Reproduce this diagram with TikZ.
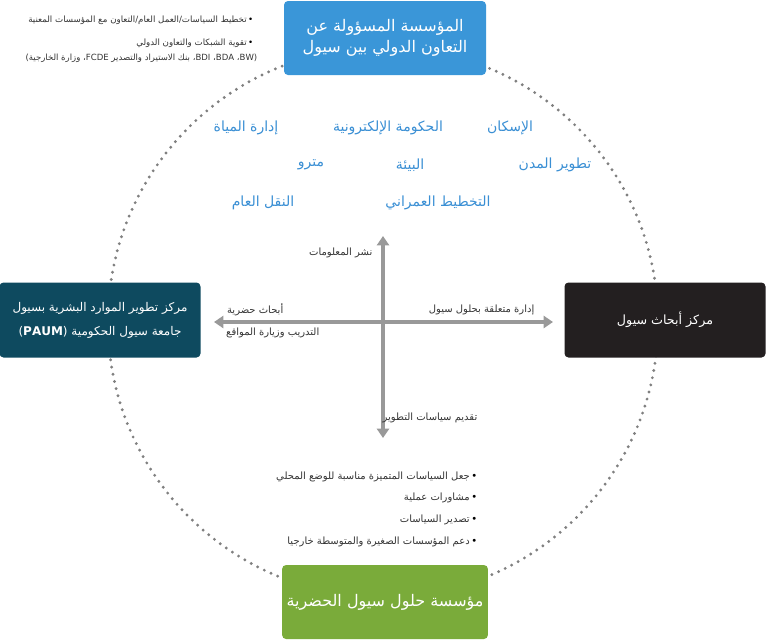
\documentclass[tikz,border=0pt]{standalone}
\usepackage{fontspec}
\usetikzlibrary{arrows.meta}
\newfontfamily\arabicfont[Script=Arabic]{DejaVu Sans}
\TeXXeTstate=1
\newcommand{\ar}[1]{{\arabicfont\beginR #1\endR}}
\newcommand{\lt}[1]{\beginL #1\endL{}}
\definecolor{topblue}{HTML}{3A96D8}
\definecolor{leftteal}{HTML}{0E4A5F}
\definecolor{rightdark}{HTML}{231F20}
\definecolor{botgreen}{HTML}{7AAB3A}
\definecolor{wordblue}{HTML}{3A8FD4}
\definecolor{axisgray}{HTML}{999999}
\newcommand{\dotb}{\textcolor{wordblue}{•}\,}
\begin{document}
\begin{tikzpicture} [
    x=0.75pt, y=-0.75pt,
    box/.style      = { rectangle, rounded corners=3pt, text=white, align=center,
                        font=\fontsize{12}{16}\selectfont },
    word/.style     = { text=wordblue, font=\fontsize{10.5}{12}\selectfont },
    small/.style    = { text=black!80, font=\fontsize{6.5}{9}\selectfont, anchor=east },
    note/.style     = { text=black!80, font=\fontsize{7.5}{10}\selectfont, anchor=east },
    axis/.style     = { draw=axisgray, line width=2.6pt,
                        {Triangle[width=9pt,length=7pt]}-{Triangle[width=9pt,length=7pt]} },
  ]
  \useasboundingbox (0,0) rectangle (766,640);

  % dotted ring
  \node[circle, minimum size=550*0.75pt, draw=black!50, line width=2.4pt,
        dash pattern=on 0pt off 5.5pt, line cap=round] (ring) at (383,322) {};

  % the four bodies
  \node[box, fill=topblue,  minimum width=202*0.75pt, minimum height=74*0.75pt] (seoul) at (385,38)
    {\ar{المؤسسة المسؤولة عن}\\\ar{التعاون الدولي بين سيول}};
  \node[box, fill=leftteal, minimum width=201*0.75pt, minimum height=75*0.75pt,
        font=\fontsize{9}{18}\selectfont] (hrd) at (100,320)
    {\ar{مركز تطوير الموارد البشرية بسيول}\\\ar{جامعة سيول الحكومية (\lt{\textbf{PAUM}})}};
  \node[box, fill=rightdark, minimum width=201*0.75pt, minimum height=75*0.75pt,
        font=\fontsize{9.5}{12}\selectfont] (si) at (665,320) {\ar{مركز أبحاث سيول}};
  \node[box, fill=botgreen, minimum width=202*0.75pt, minimum height=74*0.75pt] (sus) at (385,602)
    {\ar{مؤسسة حلول سيول الحضرية}};

  % fields
  \node[word] (housing) at (510,128) {\ar{الإسكان}};
  \node[word] (egov)    at (388,128) {\ar{الحكومة الإلكترونية}};
  \node[word] (water)   at (246,128) {\ar{إدارة المياة}};
  \node[word] (city)    at (555,165) {\ar{تطوير المدن}};
  \node[word] (env)     at (410,165) {\ar{البيئة}};
  \node[word] (metro)   at (311,165) {\ar{مترو}};
  \node[word] (plan)    at (438,203) {\ar{التخطيط العمراني}};
  \node[word] (transit) at (263,203) {\ar{النقل العام}};

  % axes
  \coordinate (up)    at (383,236);
  \coordinate (down)  at (383,438);
  \coordinate (left)  at (214,322);
  \coordinate (right) at (553,322);
  \draw[axis] (up) -- (down);
  \draw[axis] (left) -- (right);

  \node[note] (info)   at (377,253) {\ar{نشر المعلومات}};
  \node[note] (resrch) at (288,310) {\ar{أبحاث حضرية}};
  \node[note] (train)  at (324,333) {\ar{التدريب وزيارة المواقع}};
  \node[note] (manage) at (539,310) {\ar{إدارة متعلقة بحلول سيول}};
  \node[note] (policy) at (482,418) {\ar{تقديم سياسات التطوير}};

  % top left notes
  \node[small] (n1) at (258,20) {\ar{\dotb تخطيط السياسات/العمل العام/التعاون مع المؤسسات المعنية}};
  \node[small] (n2) at (258,43) {\ar{\dotb تقوية الشبكات والتعاون الدولي}};
  \node[small, font=\fontsize{6.4}{9}\selectfont] (n3) at (262,58)
    {\ar{(\lt{BW}، \lt{BDA}، \lt{BDI}، بنك الاستيراد والتصدير \lt{FCDE}، وزارة الخارجية)}};

  % bottom notes
  \node[note] (b1) at (482,477) {\ar{\dotb جعل السياسات المتميزة مناسبة للوضع المحلي}};
  \node[note] (b2) at (482,498) {\ar{\dotb مشاورات عملية}};
  \node[note] (b3) at (482,520) {\ar{\dotb تصدير السياسات}};
  \node[note] (b4) at (482,542) {\ar{\dotb دعم المؤسسات الصغيرة والمتوسطة خارجيا}};
\end{tikzpicture}
\end{document}
